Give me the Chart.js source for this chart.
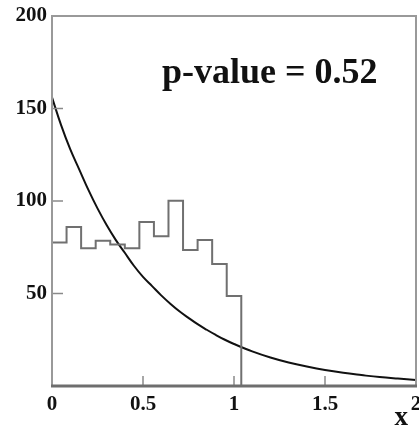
<!DOCTYPE html>
<html>
<head>
<meta charset="utf-8">
<script src="https://cdn.jsdelivr.net/npm/chart.js@4/dist/chart.umd.min.js"></script>
<style>
html,body{margin:0;padding:0;background:#fff;}
#wrap{width:419px;height:425px;position:relative;}
</style>
</head>
<body>
<div id="wrap"><canvas id="c" width="419" height="425"></canvas></div>
<script>
// Histogram bin edges (left edges) and bin contents
const binEdges = [0, 0.08, 0.16, 0.24, 0.32, 0.40, 0.48, 0.56, 0.64, 0.72, 0.80, 0.88, 0.96];
const binUpper = 1.04;
const binCounts = [77.6, 86.0, 74.4, 78.5, 76.5, 74.4, 88.7, 81.0, 100.1, 73.5, 78.9, 65.9, 48.6];
// Curve
const curveX = [0, 0.05, 0.1, 0.15, 0.2, 0.25, 0.3, 0.35, 0.4, 0.45, 0.5, 0.55, 0.6, 0.65, 0.7, 0.75, 0.8, 0.85, 0.9, 0.95,
                1.0, 1.1, 1.2, 1.3, 1.4, 1.5, 1.6, 1.7, 1.8, 1.9, 2.0];
const curveY = [156, 141, 128, 117, 106, 96, 87, 79, 72, 65, 59, 54, 49, 44.5, 40.4, 36.8, 33.4, 30.4, 27.6, 25.0,
                22.7, 18.7, 15.4, 12.7, 10.5, 8.6, 7.1, 5.9, 4.8, 4.0, 3.3];
// Tick labels
const xTicks = [0, 0.5, 1, 1.5, 2];
const yTicks = [50, 100, 150, 200];
const annotation = 'p-value = 0.52';
const xTitle = 'x';

const histPts = binEdges.map((e, i) => ({x: e, y: binCounts[i]}));
histPts.push({x: binUpper, y: binCounts[binCounts.length - 1]});
histPts.push({x: binUpper, y: 0});
const curvePts = curveX.map((x, i) => ({x: x, y: curveY[i]}));

const FONT = "'Liberation Serif', 'DejaVu Serif', serif";

const framePlugin = {
  id: 'frame',
  afterDatasetsDraw(chart) {
    const {ctx, chartArea: a, scales} = chart;
    ctx.save();
    // inward tick marks
    ctx.strokeStyle = '#8a8a8a';
    ctx.lineWidth = 1.5;
    yTicks.forEach(v => {
      const py = scales.y.getPixelForValue(v);
      ctx.beginPath(); ctx.moveTo(a.left, py); ctx.lineTo(a.left + 11, py); ctx.stroke();
    });
    xTicks.forEach(v => {
      const px = scales.x.getPixelForValue(v);
      ctx.beginPath(); ctx.moveTo(px, a.bottom); ctx.lineTo(px, a.bottom - 10); ctx.stroke();
    });
    // frame
    ctx.strokeStyle = '#999';
    ctx.lineWidth = 2;
    ctx.beginPath();
    ctx.moveTo(a.left, a.bottom); ctx.lineTo(a.left, a.top); ctx.lineTo(a.right, a.top); ctx.lineTo(a.right, a.bottom);
    ctx.stroke();
    ctx.strokeStyle = '#6e6e6e';
    ctx.lineWidth = 3;
    ctx.beginPath(); ctx.moveTo(a.left - 1, a.bottom); ctx.lineTo(a.right + 1, a.bottom); ctx.stroke();
    // annotation
    ctx.fillStyle = '#111';
    ctx.font = 'bold 36px ' + FONT;
    ctx.textBaseline = 'alphabetic';
    ctx.textAlign = 'left';
    ctx.fillText(annotation, 162, 83);
    // axis title
    ctx.font = 'bold 27px ' + FONT;
    ctx.textAlign = 'right';
    ctx.fillText(xTitle, 408, 425);
    ctx.restore();
  }
};

new Chart(document.getElementById('c'), {
  type: 'line',
  data: {
    datasets: [
      {
        data: histPts,
        stepped: true,
        borderColor: '#707070',
        borderWidth: 2,
        pointRadius: 0,
        fill: false
      },
      {
        data: curvePts,
        borderColor: '#111',
        borderWidth: 2,
        pointRadius: 0,
        tension: 0.4,
        fill: false
      }
    ]
  },
  options: {
    responsive: false,
    animation: false,
    events: [],
    layout: {padding: {left: 0, top: 16, right: 3, bottom: 0}},
    plugins: {legend: {display: false}, tooltip: {enabled: false}},
    scales: {
      x: {
        type: 'linear',
        min: 0, max: 2,
        afterBuildTicks(s) { s.ticks = xTicks.map(v => ({value: v})); },
        afterFit(s) { s.height = 39; s.paddingLeft = 0; s.paddingRight = 0; },
        grid: {display: false, drawTicks: false},
        border: {display: false},
        ticks: {
          color: '#111', padding: 6, maxRotation: 0, autoSkip: false,
          font: {family: FONT, size: 21, weight: 'bold'},
          callback: v => String(v)
        }
      },
      y: {
        type: 'linear',
        min: 0, max: 200,
        afterBuildTicks(s) { s.ticks = yTicks.map(v => ({value: v})); },
        afterFit(s) { s.width = 52; s.paddingTop = 0; s.paddingBottom = 0; },
        grid: {display: false, drawTicks: false},
        border: {display: false},
        ticks: {
          color: '#111', padding: 5,
          font: {family: FONT, size: 21, weight: 'bold'},
          callback: v => String(v)
        }
      }
    }
  },
  plugins: [framePlugin]
});
</script>
</body>
</html>
